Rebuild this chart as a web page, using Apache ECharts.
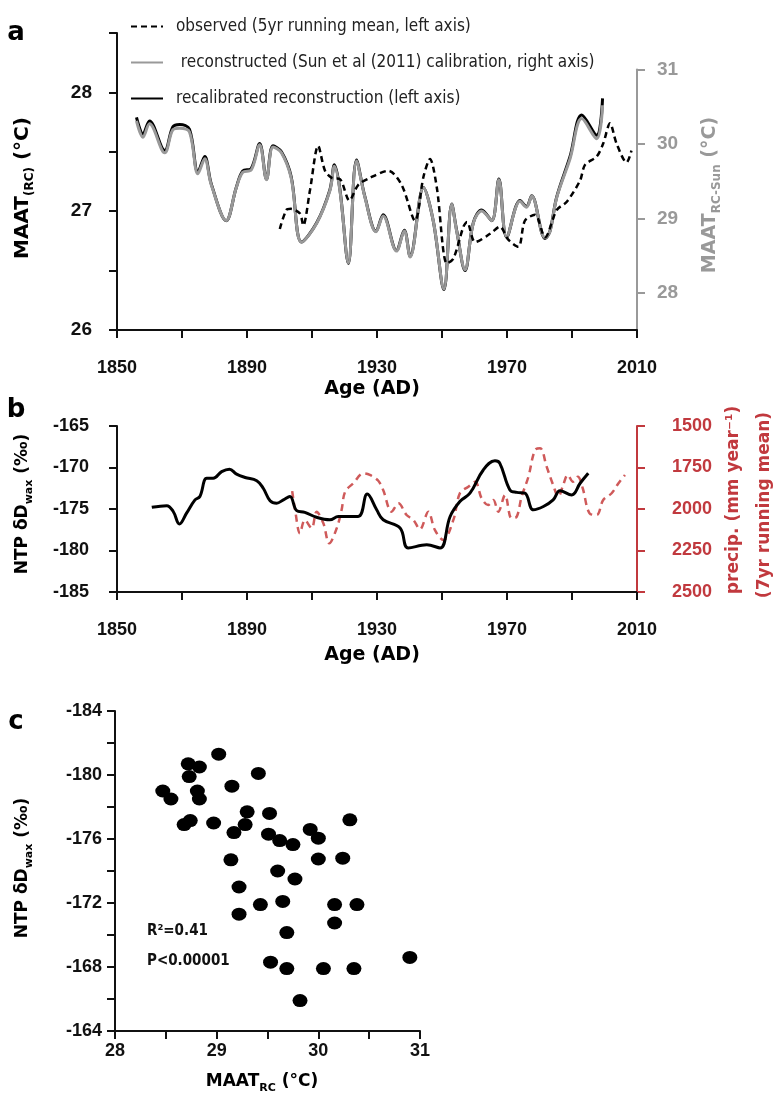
<!DOCTYPE html>
<html><head><meta charset="utf-8">
<script src="https://cdn.jsdelivr.net/npm/echarts@6/dist/echarts.min.js"></script>
<style>html,body{margin:0;padding:0;background:#fff}#c{width:777px;height:1100px}</style>
</head><body><div id="c"></div>
<script>
// ---------- Panel a ----------
const observedMAAT = [[1900.1,26.85],[1902.1,27.01],[1903.5,27.02],[1906.3,26.98],[1907.3,26.88],[1909.4,27.18],[1911.9,27.55],[1914.0,27.34],[1916.1,27.28],[1918.6,27.27],[1921.5,27.09],[1924.2,27.22],[1927.8,27.28],[1933.5,27.34],[1937.6,27.22],[1941.7,26.92],[1944.3,27.29],[1946.3,27.44],[1948.4,27.20],[1951.5,26.56],[1953.5,26.60],[1956.6,26.87],[1957.7,26.91],[1960.2,26.74],[1964.8,26.81],[1967.8,26.87],[1970.4,26.76],[1973.5,26.70],[1975.5,26.92],[1978.6,26.97],[1981.7,26.78],[1985.3,27.01],[1988.4,27.08],[1992.5,27.26],[1994.0,27.39],[1997.6,27.46],[1999.6,27.57],[2001.7,27.74],[2003.7,27.57],[2006.8,27.41],[2008.3,27.51]];
const recalibratedMAAT = [[1856,27.79],[1858,27.65],[1860,27.76],[1864.7,27.51],[1867.2,27.71],[1869.3,27.73],[1872.3,27.69],[1874.9,27.33],[1877,27.46],[1879,27.23],[1883.6,26.92],[1886.7,27.20],[1888.7,27.34],[1891.3,27.36],[1893.9,27.57],[1896,27.27],[1898,27.55],[1900.6,27.50],[1903.6,27.29],[1906.8,26.74],[1911.4,26.90],[1915.5,27.18],[1916.9,27.39],[1918.6,27.18],[1921.2,26.56],[1923.7,27.43],[1926.3,27.12],[1929.7,26.83],[1931.9,26.97],[1936,26.67],[1938.4,26.84],[1940.2,26.62],[1944.3,27.20],[1947.3,26.92],[1950.6,26.34],[1953,27.06],[1954.5,26.84],[1957.1,26.50],[1959.6,26.90],[1962.2,27.01],[1965.3,26.92],[1967.5,27.27],[1969.9,26.78],[1974,27.09],[1976,27.04],[1977.6,27.13],[1981.7,26.77],[1983.2,26.83],[1985.3,27.12],[1989.4,27.46],[1993,27.81],[1997.6,27.64],[1999.4,27.95]];
const sunMAAT = [[1856,30.31],[1858,30.09],[1860,30.27],[1864.7,29.88],[1867.2,30.19],[1869.3,30.21],[1872.3,30.16],[1874.9,29.60],[1877,29.80],[1879,29.45],[1883.6,28.97],[1886.7,29.41],[1888.7,29.62],[1891.3,29.65],[1893.9,29.99],[1896,29.52],[1898,29.96],[1900.6,29.88],[1903.6,29.54],[1906.8,28.68],[1911.4,28.93],[1915.5,29.37],[1916.9,29.70],[1918.6,29.37],[1921.2,28.40],[1923.7,29.77],[1926.3,29.28],[1929.7,28.82],[1931.9,29.03],[1936,28.56],[1938.4,28.83],[1940.2,28.48],[1944.3,29.41],[1947.3,28.97],[1950.6,28.05],[1953,29.19],[1954.5,28.83],[1957.1,28.31],[1959.6,28.93],[1962.2,29.10],[1965.3,28.97],[1967.5,29.52],[1969.9,28.75],[1974,29.23],[1976,29.15],[1977.6,29.30],[1981.7,28.74],[1983.2,28.82],[1985.3,29.28],[1989.4,29.80],[1993,30.34],[1997.6,30.07],[1999.4,30.52]];
const ageLabels = [1850, 1890, 1930, 1970, 2010];
const maatLeftLabels = [26, 27, 28];
const maatRightLabels = [28, 29, 30, 31];

// ---------- Panel b ----------
const ntpDwax = [[1860.7,-174.8],[1865.3,-174.6],[1867.3,-175.3],[1869.2,-176.8],[1871.4,-175.5],[1874,-173.9],[1875.5,-173.5],[1877.6,-171.3],[1879.6,-171.3],[1882.2,-170.5],[1884.6,-170.2],[1886.8,-170.8],[1889.4,-171.2],[1893,-171.6],[1895,-172.5],[1897.1,-174.0],[1899.1,-174.3],[1901.2,-173.9],[1903.2,-173.5],[1905.3,-175.2],[1907.8,-175.4],[1911.4,-176.0],[1915.5,-176.3],[1918.1,-175.9],[1924.2,-175.9],[1927,-173.2],[1929.9,-175.1],[1931.9,-176.3],[1937.1,-177.3],[1939.6,-179.7],[1945.3,-179.3],[1949.4,-179.7],[1952.5,-175.9],[1955.5,-174.1],[1958.6,-173.1],[1962.7,-170.3],[1966.3,-169.2],[1967.8,-169.5],[1970.9,-172.7],[1973,-173.0],[1975.5,-173.1],[1978.1,-175.1],[1981.2,-174.7],[1984.2,-173.9],[1986.3,-172.8],[1989.9,-173.3],[1992.5,-171.9],[1995,-170.7]];
const precip7yr = [[1903.9,1892],[1904.8,2006],[1906.3,2146],[1907.8,2066],[1909.9,2116],[1911.4,2016],[1913.5,2086],[1915.3,2207],[1917.6,2116],[1919.1,2006],[1920.2,1896],[1922.7,1845],[1925.8,1785],[1927.8,1795],[1930.4,1830],[1931.9,1886],[1934.5,2016],[1936.6,1966],[1939.1,2036],[1941.2,2066],[1943.2,2122],[1945.8,2016],[1947.8,2126],[1950.4,2187],[1953.5,2066],[1955.5,1905],[1958.1,1866],[1960.2,1836],[1962.2,1936],[1964.2,1976],[1965.8,1946],[1967.3,2016],[1969.4,1916],[1971.4,2056],[1973,2046],[1974.5,1926],[1976.6,1805],[1978.6,1645],[1980.2,1634],[1982.2,1745],[1984.2,1855],[1985.8,1926],[1987.3,1855],[1988.7,1795],[1990.3,1836],[1991.8,1805],[1993.3,1875],[1995.4,2026],[1997.6,2036],[1999.6,1946],[2002.2,1905],[2004.3,1845],[2006.3,1795]];
const dwaxLabelsB = [-185, -180, -175, -170, -165];
const precipLabels = [1500, 1750, 2000, 2250, 2500];

// ---------- Panel c ----------
const scatterMAAT = [28.47,28.55,28.72,28.73,28.83,28.81,28.83,28.68,28.74,29.02,28.97,29.15,29.17,29.30,29.28,29.41,29.52,29.51,29.62,29.75,29.92,30.00,30.31,29.14,30.00,30.24,29.60,29.77,29.22,29.43,29.65,30.16,30.38,29.22,30.16,29.69,29.53,29.69,30.05,30.35,30.90,29.82];
const scatterDwax = [-179.0,-178.5,-180.7,-179.9,-180.5,-179.0,-178.5,-176.9,-177.15,-181.3,-177.0,-179.3,-176.4,-177.7,-176.9,-180.1,-177.6,-176.3,-175.9,-175.65,-176.6,-176.05,-177.2,-174.7,-174.75,-174.8,-174.0,-173.5,-173.0,-171.9,-172.1,-171.9,-171.9,-171.3,-170.75,-170.15,-168.3,-167.9,-167.9,-167.9,-168.6,-165.9];
const maatRcLabels = [28, 29, 30, 31];
const dwaxLabelsC = [-184, -180, -176, -172, -168, -164];

const NUM = "'Liberation Sans', Arial, sans-serif";
const TTL = "'DejaVu Sans', sans-serif";
const NARROW = "'Liberation Sans Narrow', 'DejaVu Sans Condensed', sans-serif";
const RED = '#c1393e';
const GRAY = '#999999';

function axisStyle(color, labelVals, tickVals, margin, fs) {
  const o = {
    splitLine: {show: false},
    axisLine: {show: true, onZero: false, lineStyle: {color: color, width: 2}},
    axisTick: {show: true, length: 8, lineStyle: {color: color, width: 2}},
    axisLabel: {color: color, fontFamily: NUM, fontWeight: 'bold', fontSize: fs || 18, margin: margin,
      customValues: labelVals, formatter: (v) => String(v)}
  };
  if (tickVals) o.axisTick.customValues = tickVals;
  return o;
}

const chart = echarts.init(document.getElementById('c'), null, {renderer: 'canvas'});
const titleRich = (size, color) => ({
  m: {fontSize: size, fontWeight: 'bold', fontFamily: TTL, fill: color, lineHeight: size + 6},
  s: {fontSize: Math.round(size * 0.62), fontWeight: 'bold', fontFamily: TTL, fill: color, lineHeight: Math.round(size * 0.62), verticalAlign: 'bottom'}
});
function tx(x, y, text, size, color, rot, rich, align) {
  return {type: 'text', x: x, y: y, rotation: rot || 0, silent: true,
    style: {text: text, fill: color, font: 'bold ' + size + 'px ' + TTL, align: align || 'center', verticalAlign: 'middle', rich: rich}};
}

const option = {
  animation: false,
  backgroundColor: '#fff',
  legend: {
    orient: 'vertical', left: 125, top: 13, itemWidth: 32, itemHeight: 16, itemGap: 19,
    itemStyle: {color: 'transparent', borderColor: 'transparent', borderWidth: 0},
    textStyle: {fontFamily: NARROW, fontSize: 17, color: '#222', padding: [0, 0, 0, 8]},
    data: ['observed (5yr running mean, left axis)', ' reconstructed (Sun et al (2011) calibration, right axis)', 'recalibrated reconstruction (left axis)']
  },
  grid: [
    {left: 117, right: 140, top: 33, bottom: 770},
    {left: 117, right: 140, top: 69.5, bottom: 770},
    {left: 117, right: 140, top: 426, bottom: 508},
    {left: 115, right: 357, top: 711, bottom: 69}
  ],
  xAxis: [
    Object.assign({gridIndex: 0, type: 'value', min: 1850, max: 2010, interval: 20}, axisStyle('#111', ageLabels, null, 29, 18)),
    {gridIndex: 1, type: 'value', min: 1850, max: 2010, show: false},
    Object.assign({gridIndex: 2, type: 'value', min: 1850, max: 2010, interval: 20}, axisStyle('#111', ageLabels, null, 29, 18)),
    Object.assign({gridIndex: 3, type: 'value', min: 28, max: 31, interval: 0.5}, axisStyle('#111', maatRcLabels, null, 11, 18))
  ],
  yAxis: [
    Object.assign({gridIndex: 0, type: 'value', min: 26, max: 28.5, interval: 0.5, position: 'left'}, axisStyle('#111', maatLeftLabels, null, 25, 19)),
    Object.assign({gridIndex: 1, type: 'value', min: 27.5, max: 31, position: 'right'}, axisStyle(GRAY, maatRightLabels, maatRightLabels, 20, 19)),
    Object.assign({gridIndex: 2, type: 'value', min: -185, max: -165, interval: 5, position: 'left'}, axisStyle('#111', dwaxLabelsB, null, 28, 18)),
    Object.assign({gridIndex: 2, type: 'value', min: 1500, max: 2500, interval: 250, inverse: true, position: 'right'}, axisStyle(RED, precipLabels, null, 35, 18)),
    Object.assign({gridIndex: 3, type: 'value', min: -184, max: -164, interval: 2, inverse: true, position: 'left'}, axisStyle('#111', dwaxLabelsC, null, 13, 18))
  ],
  series: [
    {name: 'observed (5yr running mean, left axis)', type: 'line', xAxisIndex: 0, yAxisIndex: 0, data: observedMAAT, symbol: 'none', smooth: 0.3, z: 3,
      lineStyle: {color: '#000', width: 2.5, type: [6, 4]}, itemStyle: {color: '#000'}},
    {name: 'recalibrated reconstruction (left axis)', type: 'line', xAxisIndex: 0, yAxisIndex: 0, data: recalibratedMAAT, symbol: 'none', smooth: 0.35, z: 2,
      lineStyle: {color: '#000', width: 3}, itemStyle: {color: '#000'}},
    {name: ' reconstructed (Sun et al (2011) calibration, right axis)', type: 'line', xAxisIndex: 1, yAxisIndex: 1, data: sunMAAT, symbol: 'none', smooth: 0.35, z: 2.5,
      lineStyle: {color: GRAY, width: 3}, itemStyle: {color: GRAY}},
    {name: 'NTP dDwax', type: 'line', xAxisIndex: 2, yAxisIndex: 2, data: ntpDwax, symbol: 'none', smooth: 0.4, z: 3,
      lineStyle: {color: '#000', width: 3}},
    {name: 'precip', type: 'line', xAxisIndex: 2, yAxisIndex: 3, data: precip7yr, symbol: 'none', smooth: 0.35, z: 2,
      lineStyle: {color: '#cf5a5a', width: 2.5, type: [7, 5]}},
    {name: 'scatter', type: 'scatter', xAxisIndex: 3, yAxisIndex: 4, data: scatterMAAT.map((v, i) => [v, scatterDwax[i]]),
      symbol: 'circle', symbolSize: [15, 13], itemStyle: {color: '#000', opacity: 1}}
  ],
  graphic: [
    tx(16, 33, 'a', 26, '#000', 0),
    tx(16, 410, 'b', 26, '#000', 0),
    tx(16, 722, 'c', 26, '#000', 0),
    tx(23, 188, '{m|MAAT}{s|(RC)}{m| (°C)}', 20, '#000', Math.PI / 2, titleRich(20, '#000')),
    tx(710, 195, '{m|MAAT}{s|RC-Sun}{m| (°C)}', 19, GRAY, Math.PI / 2, titleRich(19, GRAY)),
    tx(372, 389, 'Age (AD)', 19, '#000', 0),
    tx(23, 504, '{m|NTP δD}{s|wax}{m| (‰)}', 17, '#000', Math.PI / 2, titleRich(17, '#000')),
    tx(734, 500, 'precip. (mm year⁻¹)', 17, RED, Math.PI / 2),
    tx(765, 505, '(7yr running mean)', 17, RED, Math.PI / 2),
    tx(372, 655, 'Age (AD)', 19, '#000', 0),
    tx(23, 868, '{m|NTP δD}{s|wax}{m| (‰)}', 17, '#000', Math.PI / 2, titleRich(17, '#000')),
    tx(262, 1082, '{m|MAAT}{s|RC}{m| (°C)}', 17, '#000', 0, titleRich(17, '#000')),
    {type: 'text', x: 147, y: 931, silent: true, style: {text: 'R²=0.41', fill: '#111', font: 'bold 15px ' + NARROW, verticalAlign: 'middle'}},
    {type: 'text', x: 147, y: 961, silent: true, style: {text: 'P<0.00001', fill: '#111', font: 'bold 15px ' + NARROW, verticalAlign: 'middle'}}
  ]
};
chart.setOption(option);
</script>
</body></html>
